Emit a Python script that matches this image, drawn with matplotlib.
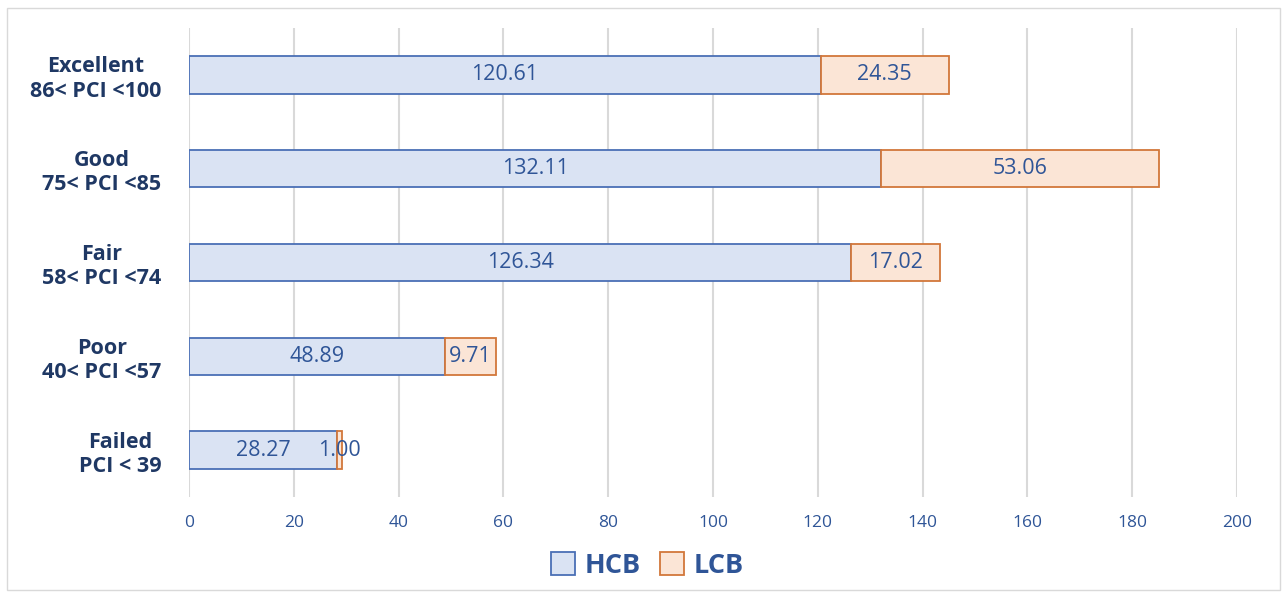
import matplotlib.pyplot as plt
from matplotlib.patches import Rectangle

# Condition classes, bottom to top on the chart
categories = ["Failed\nPCI < 39", "Poor\n40< PCI <57", "Fair\n58< PCI <74",
              "Good\n75< PCI <85", "Excellent\n86< PCI <100"]
hcb = [28.27, 48.89, 126.34, 132.11, 120.61]
lcb = [1.00, 9.71, 17.02, 53.06, 24.35]
x_ticks = [0, 20, 40, 60, 80, 100, 120, 140, 160, 180, 200]

plt.rcParams['font.family'] = ['Open Sans', 'DejaVu Sans']

fig = plt.figure(figsize=(12.87, 5.92), dpi=100)
ax = fig.add_axes([0.1469, 0.1605, 0.8142, 0.7922])

# outer frame
fig.patches.append(Rectangle((7 / 1287, 2 / 592), 1273 / 1287, 582 / 592,
                             transform=fig.transFigure, fill=False,
                             edgecolor='#D9D9D9', linewidth=1.0))

pos = list(range(len(categories)))
b1 = ax.barh(pos, hcb, height=0.4, color='#DAE3F3', edgecolor='#4A6FB5',
             linewidth=1.3, label='HCB', zorder=3)
b2 = ax.barh(pos, lcb, left=hcb, height=0.4, color='#FBE5D6',
             edgecolor='#D2773A', linewidth=1.3, label='LCB', zorder=3)

ax.bar_label(b1, labels=[f"{v:.2f}" for v in hcb], label_type='center',
             color='#2F5597', fontsize=15.5, zorder=4)
ax.bar_label(b2, labels=[f"{v:.2f}" for v in lcb], label_type='center',
             color='#2F5597', fontsize=15.5, zorder=4)

ax.set_xlim(0, 200)
ax.set_ylim(-0.5, 4.5)
ax.set_xticks(x_ticks)
ax.set_yticks(pos)
ax.set_yticklabels(categories, fontweight='bold', fontsize=15.5,
                   color='#1F3864', multialignment='center', linespacing=1.2)
ax.tick_params(axis='y', length=0, pad=20)
ax.tick_params(axis='x', length=0, pad=13, labelsize=12.5, labelcolor='#2F5597')
for s in ax.spines.values():
    s.set_visible(False)
ax.grid(axis='x', color='#D9D9D9', linewidth=1.5, zorder=0)
ax.set_axisbelow(True)

leg = fig.legend(handles=[b1, b2], loc='center', bbox_to_anchor=(0.503, 0.045),
                 ncol=2, frameon=False, handlelength=0.9, handleheight=0.9,
                 columnspacing=0.7, handletextpad=0.35,
                 prop={'weight': 'bold', 'size': 19.5})
for t in leg.get_texts():
    t.set_color('#2F5597')

fig.savefig('out.png', dpi=100)
